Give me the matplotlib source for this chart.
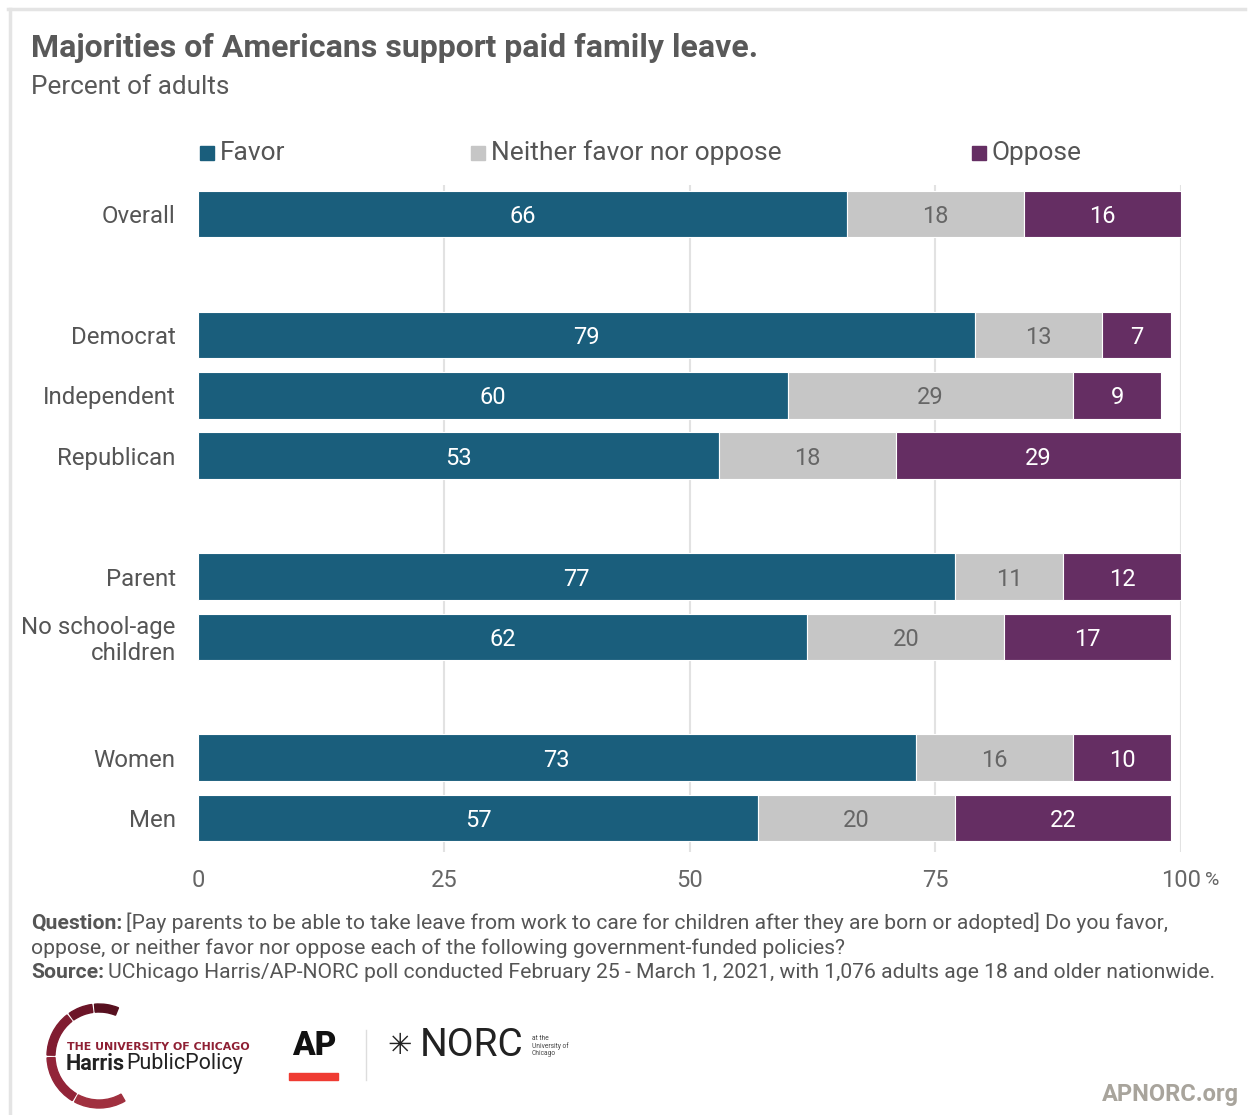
import matplotlib
matplotlib.use("Agg")
import matplotlib.pyplot as plt
import matplotlib.transforms as mtransforms
from matplotlib.patches import Wedge, Rectangle
from matplotlib.lines import Line2D

plt.rcParams['font.family'] = ['Roboto', 'DejaVu Sans']

groups = ['Overall', 'Democrat', 'Independent', 'Republican', 'Parent',
          'No school-age\nchildren', 'Women', 'Men']
rows = [0, 2, 3, 4, 6, 7, 9, 10]
favor = [66, 79, 60, 53, 77, 62, 73, 57]
neither = [18, 13, 29, 18, 11, 20, 16, 20]
oppose = [16, 7, 9, 29, 12, 17, 10, 22]
series_names = ['Favor', 'Neither favor nor oppose', 'Oppose']
colors = ['#1a5e7c', '#c6c6c6', '#652e63']
label_colors = ['white', '#666666', 'white']
ticks = [0, 25, 50, 75, 100]
tick_labels = ['0', '25', '50', '75', '100']

W, H = 1248, 1115
fig = plt.figure(figsize=(W / 100, H / 100), dpi=100)
renderer = fig.canvas.get_renderer()

def fx(px):
    return px / W

def fy(py):
    return 1 - py / H

def text_px(x, y, s, **kw):
    # place text at pixel coords, return its right edge in pixels
    t = fig.text(fx(x), fy(y), s, va='center', **kw)
    bb = t.get_window_extent(renderer=renderer)
    return bb.x1

# outer frame
fig.add_artist(Line2D([fx(8), fx(1245)], [fy(9), fy(9)], color='#e4e4e4', lw=2.5))
fig.add_artist(Line2D([fx(10), fx(10)], [fy(9), fy(1115)], color='#e4e4e4', lw=2.5))

ax = fig.add_axes([fx(198), fy(852), fx(1181) - fx(198), fy(185) - fy(852)])
ax.set_xlim(0, 100)
ax.set_ylim(10.56, -0.48)

left = [0] * len(rows)
for vals, c, lc in zip([favor, neither, oppose], colors, label_colors):
    ax.barh(rows, vals, left=left, height=0.77, color=c, edgecolor='white',
            linewidth=0.8, zorder=3)
    for r, v, l in zip(rows, vals, left):
        ax.text(l + v / 2, r, str(v), ha='center', va='center_baseline', color=lc,
                fontsize=17, zorder=4)
    left = [a + b for a, b in zip(left, vals)]

for t in ticks[1:]:
    ax.axvline(t, color='#e2e2e2', lw=1.5, zorder=1)

for s in ax.spines.values():
    s.set_visible(False)
ax.set_xticks(ticks)
ax.set_xticklabels(tick_labels, fontsize=17, color='#666666')
ax.tick_params(axis='x', length=0, pad=12)
ax.set_yticks(rows)
ax.set_yticklabels(groups, fontsize=17.3, color='#555555', linespacing=1.15)
ax.tick_params(axis='y', length=0, pad=16)
for lbl in ax.get_yticklabels():
    lbl.set_horizontalalignment('right')
    lbl.set_multialignment('right')
# unit sign after the last tick
text_px(1205, 880, '%', fontsize=14, color='#666666')

# title block
text_px(31, 48, 'Majorities of Americans support paid family leave.',
        fontsize=23, fontweight='bold', color='#595959')
text_px(31, 87, 'Percent of adults', fontsize=18.8, color='#595959')

# legend
for name, c, x in zip(series_names, colors, [200, 471, 972]):
    fig.add_artist(Rectangle((fx(x), fy(160)), fx(14), fy(146) - fy(160),
                             color=c, transform=fig.transFigure))
    text_px(x + 20, 153, name, fontsize=19, color='#555555')

# notes
fs = 15.2
nc = '#555555'
x1 = text_px(31, 923, 'Question:', fontsize=fs, fontweight='bold', color=nc)
text_px(x1 + 4, 923, '[Pay parents to be able to take leave from work to care for children '
        'after they are born or adopted] Do you favor,', fontsize=fs, color=nc)
text_px(31, 948, 'oppose, or neither favor nor oppose each of the following '
        'government-funded policies?', fontsize=fs, color=nc)
x1 = text_px(31, 973, 'Source:', fontsize=fs, fontweight='bold', color=nc)
text_px(x1 + 4, 973, 'UChicago Harris/AP-NORC poll conducted February 25 - March 1, 2021, '
        'with 1,076 adults age 18 and older nationwide.', fontsize=fs, color=nc)

# Harris Public Policy mark
arc_colors = ['#a0303f', '#922438', '#801c30', '#6c1528', '#57101f']
arc_spans = [(60, 118), (121, 178), (181, 232), (235, 262), (265, 292)]
px_to_fig = mtransforms.Affine2D().scale(1 / W, -1 / H).translate(0, 1) + fig.transFigure
for (a0, a1), c in zip(arc_spans, arc_colors):
    w = Wedge((99, 1056), 52, a0, a1, width=8, color=c)
    w.set_transform(px_to_fig)
    fig.add_artist(w)
text_px(67, 1047, 'THE UNIVERSITY OF CHICAGO', fontsize=7.9, fontweight='bold',
        color='#8f2034', family=['DejaVu Sans'])
x1 = text_px(66, 1064, 'Harris', fontsize=15.5, fontweight='bold', color='#222222')
text_px(x1 + 1, 1064, 'PublicPolicy', fontsize=15.5, color='#222222')

# AP mark
fig.text(fx(314), fy(1046), 'AP', fontsize=24, fontweight='black', color='#111111',
         ha='center', va='center')
fig.add_artist(Rectangle((fx(289), fy(1080)), fx(49), fy(1073) - fy(1080),
                         color='#ef3b32', transform=fig.transFigure))
fig.add_artist(Line2D([fx(366), fx(366)], [fy(1030), fy(1080)], color='#dddddd', lw=1))

# NORC mark
text_px(387, 1046, '\u2733', fontsize=21, color='#222222', family=['DejaVu Sans'])
text_px(420, 1046, 'NORC', fontsize=28, color='#222222')
text_px(532, 1046, 'at the\nUniversity of\nChicago', fontsize=4.8,
        color='#444444', linespacing=1.1)

text_px(1102, 1094, 'APNORC.org', fontsize=17, fontweight='bold', color='#a8a49c')

fig.savefig('out.png', dpi=100, facecolor='white')
